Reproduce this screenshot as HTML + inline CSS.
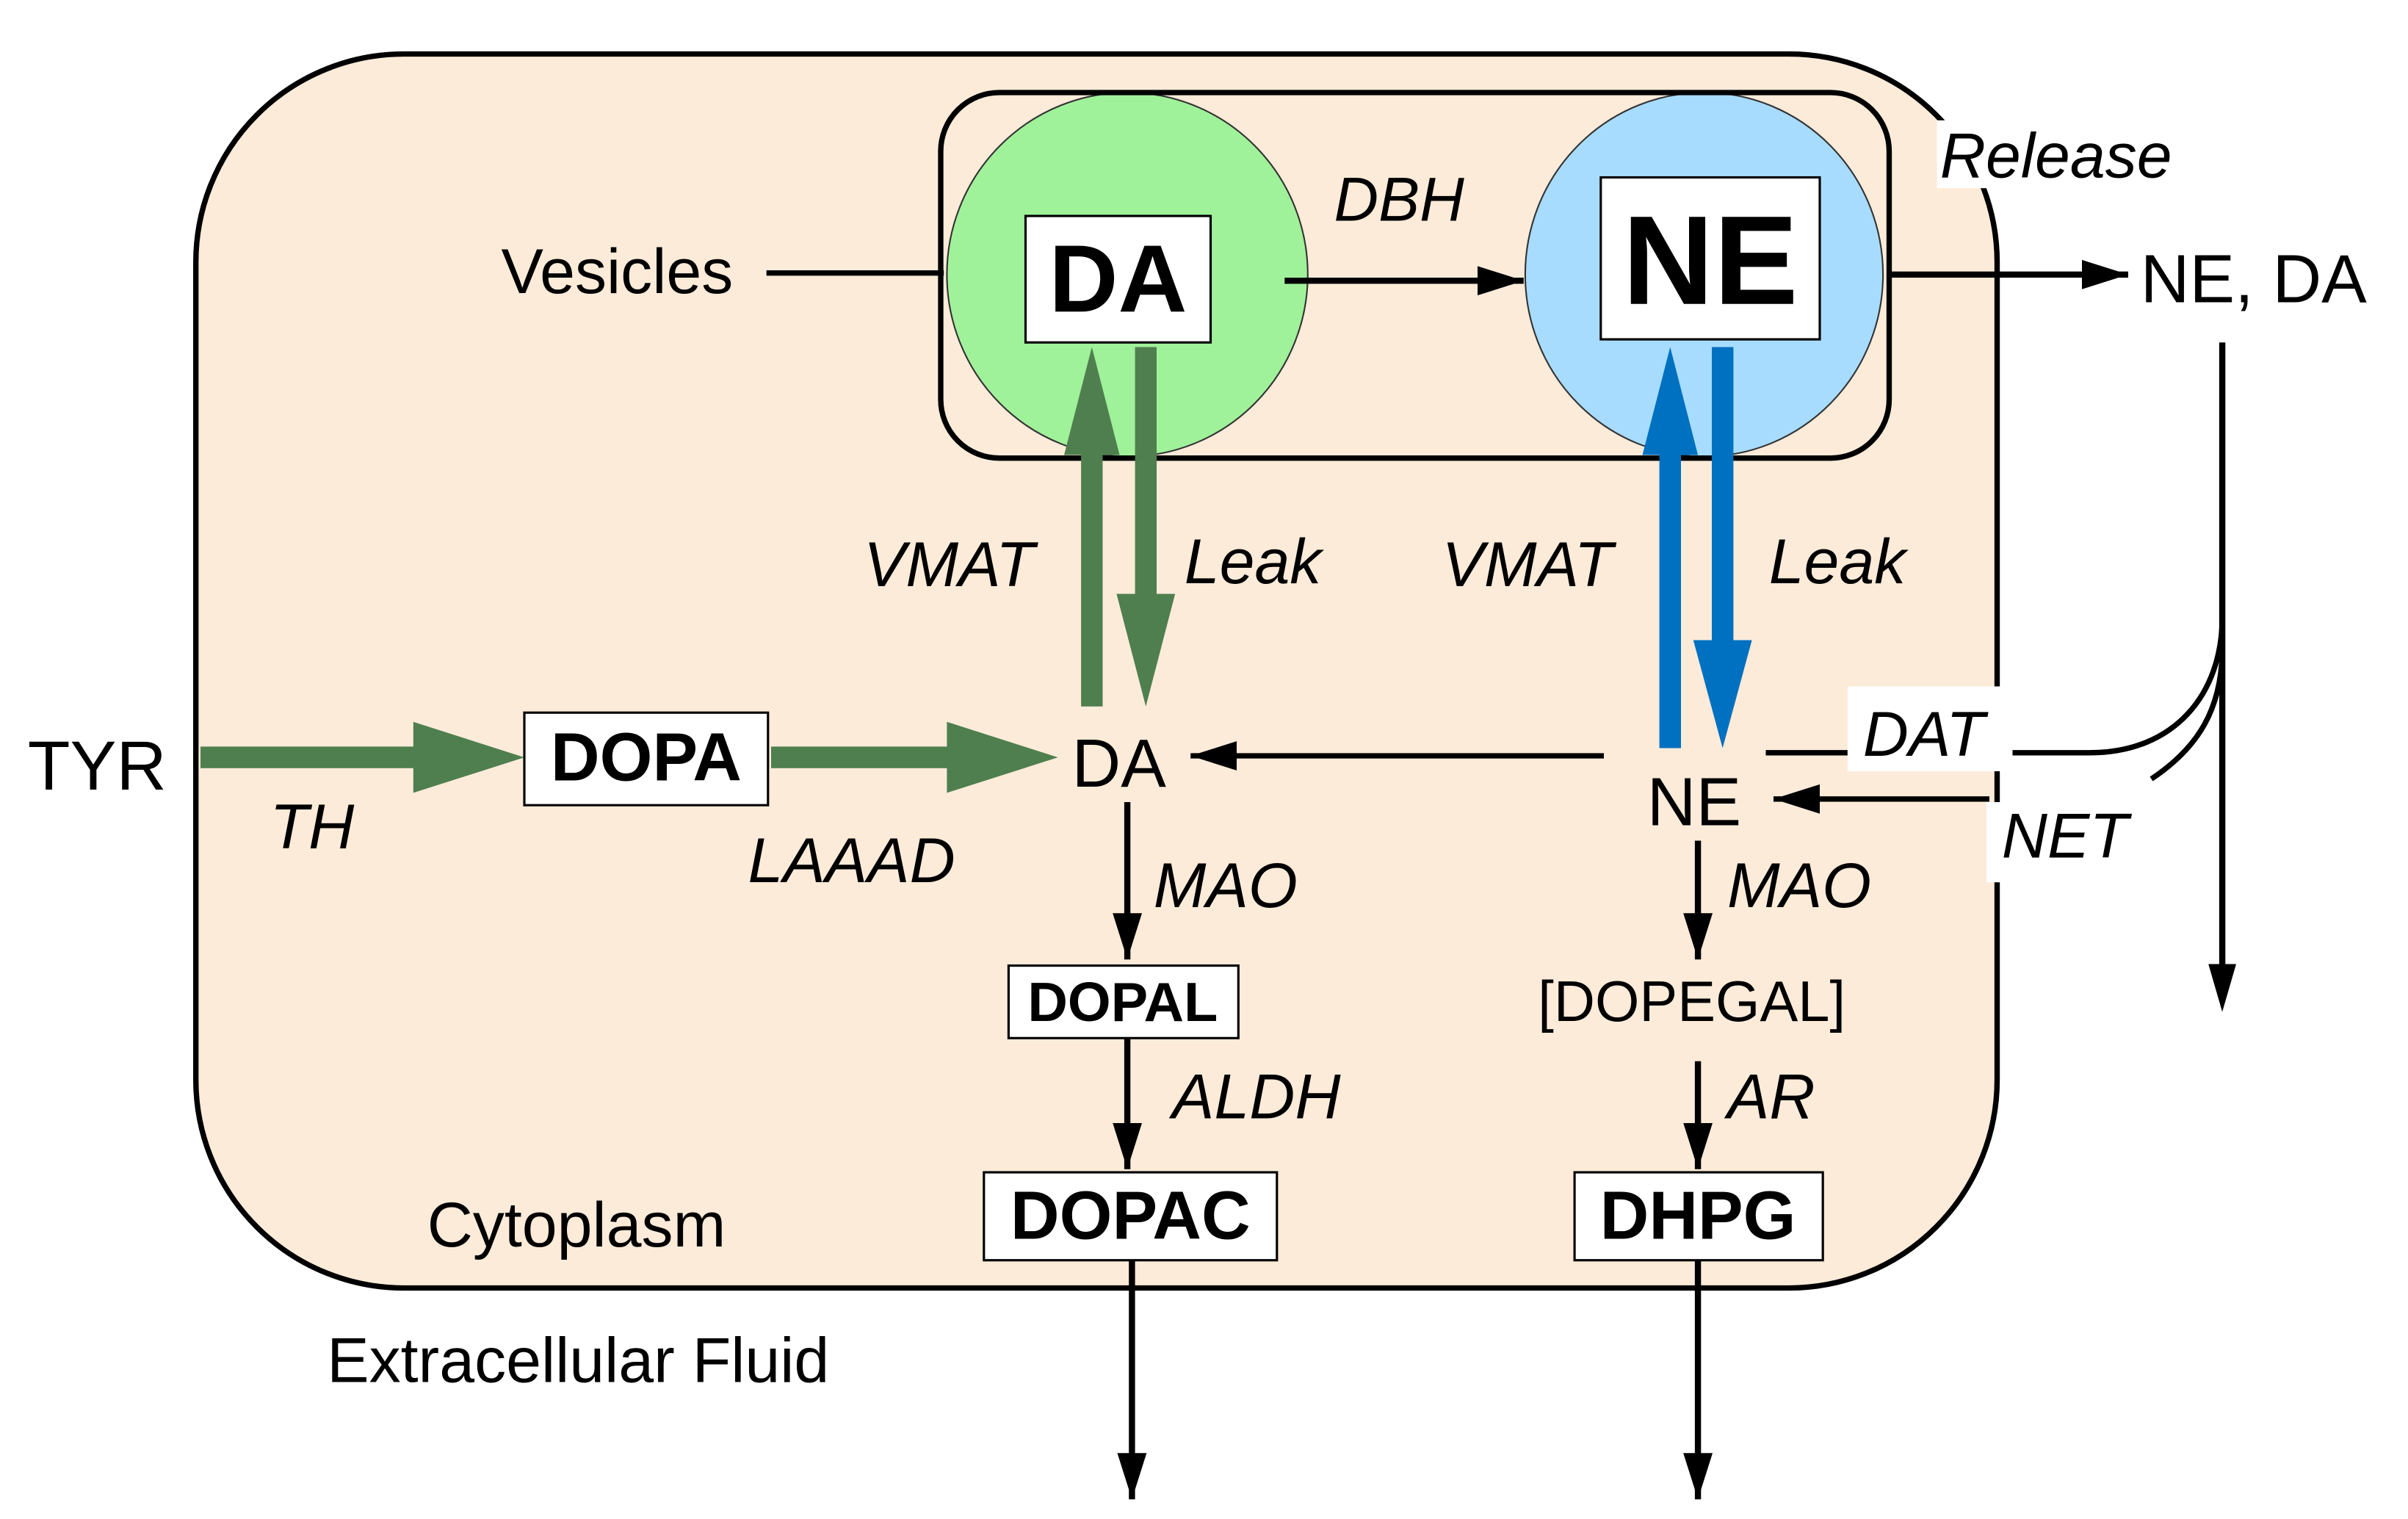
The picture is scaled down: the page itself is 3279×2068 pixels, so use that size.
<!DOCTYPE html>
<html><head><style>html,body{margin:0;padding:0;background:#fff}svg{display:block}</style></head>
<body>
<svg width="3279" height="2068" viewBox="0 0 1561.43 984.76" xmlns="http://www.w3.org/2000/svg" font-family="Liberation Sans, sans-serif">
<defs>
<marker id="ahb" viewBox="0 0 10 10" refX="10" refY="5" markerWidth="30" markerHeight="19" markerUnits="userSpaceOnUse" orient="auto" preserveAspectRatio="none"><path d="M0,0 L10,5 L0,10 z"/></marker>
</defs>
<rect x="127" y="35" width="1168" height="800" rx="135" fill="#fdebd9" stroke="#000" stroke-width="3.5"/>
<ellipse cx="731" cy="178" rx="117" ry="118" fill="#a0f29a" stroke="#333" stroke-width="1"/>
<ellipse cx="1105" cy="178" rx="116" ry="118" fill="#a8dcff" stroke="#333" stroke-width="1"/>
<rect x="610" y="60" width="615" height="237" rx="38" fill="none" stroke="#000" stroke-width="3.5"/>
<rect x="1256" y="78" width="164" height="44" fill="#fff"/>
<rect x="1198" y="445" width="108" height="55" fill="#fff"/>
<rect x="1288" y="520" width="102" height="52" fill="#fff"/>
<text x="325" y="190" font-size="41">Vesicles</text>
<line x1="497" y1="177" x2="612" y2="177" stroke="#000" stroke-width="3.5"/>
<rect x="665" y="140" width="120" height="82" fill="#fff" stroke="#000" stroke-width="1.5"/>
<text x="725" y="202" font-size="62" font-weight="bold" text-anchor="middle">DA</text>
<rect x="1038" y="115" width="142" height="105" fill="#fff" stroke="#000" stroke-width="1.5"/>
<text x="1109" y="197" font-size="82" font-weight="bold" text-anchor="middle">NE</text>
<text x="865" y="143" font-size="40" font-style="italic">DBH</text>
<line x1="833" y1="182" x2="988" y2="182" stroke="#000" stroke-width="4" marker-end="url(#ahb)"/>
<line x1="1225" y1="178" x2="1380" y2="178" stroke="#000" stroke-width="4" marker-end="url(#ahb)"/>
<text x="1388" y="196" font-size="44">NE, DA</text>
<text x="1258" y="115" font-size="41" font-style="italic">Release</text>
<line x1="1441" y1="222" x2="1441" y2="630" stroke="#000" stroke-width="4"/>
<path d="M1432,625 L1441,656 L1450,625 z"/>
<path d="M1305,488 L1355,488 C1410,488 1441,450 1441,400" fill="none" stroke="#000" stroke-width="3.5"/>
<path d="M1395,505 C1425,485 1441,460 1441,420" fill="none" stroke="#000" stroke-width="3.5"/>
<line x1="1145" y1="488" x2="1198" y2="488" stroke="#000" stroke-width="3.5"/>
<text x="1208" y="490" font-size="41" font-style="italic">DAT</text>
<text x="1298" y="556" font-size="41" font-style="italic">NET</text>
<rect x="701" y="290" width="14" height="168" fill="#4f7f4f"/>
<path d="M690,295 L708,225 L726,295 z" fill="#4f7f4f"/>
<rect x="736" y="225" width="14" height="165" fill="#4f7f4f"/>
<path d="M724,385 L743,458 L762,385 z" fill="#4f7f4f"/>
<rect x="1076" y="290" width="14" height="195" fill="#0070c0"/>
<path d="M1065,295 L1083,225 L1101,295 z" fill="#0070c0"/>
<rect x="1110" y="225" width="14" height="195" fill="#0070c0"/>
<path d="M1098,415 L1117,485 L1136,415 z" fill="#0070c0"/>
<text x="560" y="380" font-size="41" font-style="italic">VMAT</text>
<text x="768" y="378" font-size="41" font-style="italic">Leak</text>
<text x="935" y="380" font-size="41" font-style="italic">VMAT</text>
<text x="1147" y="378" font-size="41" font-style="italic">Leak</text>
<text x="18" y="512" font-size="45">TYR</text>
<rect x="130" y="484" width="142" height="14" fill="#4f7f4f"/>
<path d="M268,468 L340,491 L268,514 z" fill="#4f7f4f"/>
<rect x="340" y="462" width="158" height="60" fill="#fff" stroke="#000" stroke-width="1.5"/>
<text x="419" y="506" font-size="44" font-weight="bold" text-anchor="middle">DOPA</text>
<rect x="500" y="484" width="118" height="14" fill="#4f7f4f"/>
<path d="M614,468 L686,491 L614,514 z" fill="#4f7f4f"/>
<text x="175" y="550" font-size="41" font-style="italic">TH</text>
<text x="485" y="572" font-size="41" font-style="italic">LAAAD</text>
<text x="695" y="510" font-size="44">DA</text>
<line x1="1040" y1="490" x2="772" y2="490" stroke="#000" stroke-width="3.5" marker-end="url(#ahb)"/>
<text x="1068" y="535" font-size="44">NE</text>
<line x1="1290" y1="518" x2="1150" y2="518" stroke="#000" stroke-width="3.5" marker-end="url(#ahb)"/>
<line x1="731" y1="520" x2="731" y2="622" stroke="#000" stroke-width="4" marker-end="url(#ahb)"/>
<text x="748" y="588" font-size="41" font-style="italic">MAO</text>
<rect x="654" y="626" width="149" height="47" fill="#fff" stroke="#000" stroke-width="1.5"/>
<text x="728" y="662" font-size="36" font-weight="bold" text-anchor="middle">DOPAL</text>
<line x1="731" y1="673" x2="731" y2="758" stroke="#000" stroke-width="4" marker-end="url(#ahb)"/>
<text x="760" y="725" font-size="41" font-style="italic">ALDH</text>
<rect x="638" y="760" width="190" height="57" fill="#fff" stroke="#000" stroke-width="1.5"/>
<text x="733" y="803" font-size="44" font-weight="bold" text-anchor="middle">DOPAC</text>
<line x1="734" y1="817" x2="734" y2="972" stroke="#000" stroke-width="4" marker-end="url(#ahb)"/>
<line x1="1101" y1="545" x2="1101" y2="622" stroke="#000" stroke-width="4" marker-end="url(#ahb)"/>
<text x="1120" y="588" font-size="41" font-style="italic">MAO</text>
<text x="1097" y="662" font-size="37" text-anchor="middle">[DOPEGAL]</text>
<line x1="1101" y1="688" x2="1101" y2="758" stroke="#000" stroke-width="4" marker-end="url(#ahb)"/>
<text x="1120" y="725" font-size="41" font-style="italic">AR</text>
<rect x="1021" y="760" width="161" height="57" fill="#fff" stroke="#000" stroke-width="1.5"/>
<text x="1101" y="803" font-size="44" font-weight="bold" text-anchor="middle">DHPG</text>
<line x1="1101" y1="817" x2="1101" y2="972" stroke="#000" stroke-width="4" marker-end="url(#ahb)"/>
<text x="277" y="808" font-size="41">Cytoplasm</text>
<text x="212" y="896" font-size="41">Extracellular Fluid</text>
</svg>
</body></html>
